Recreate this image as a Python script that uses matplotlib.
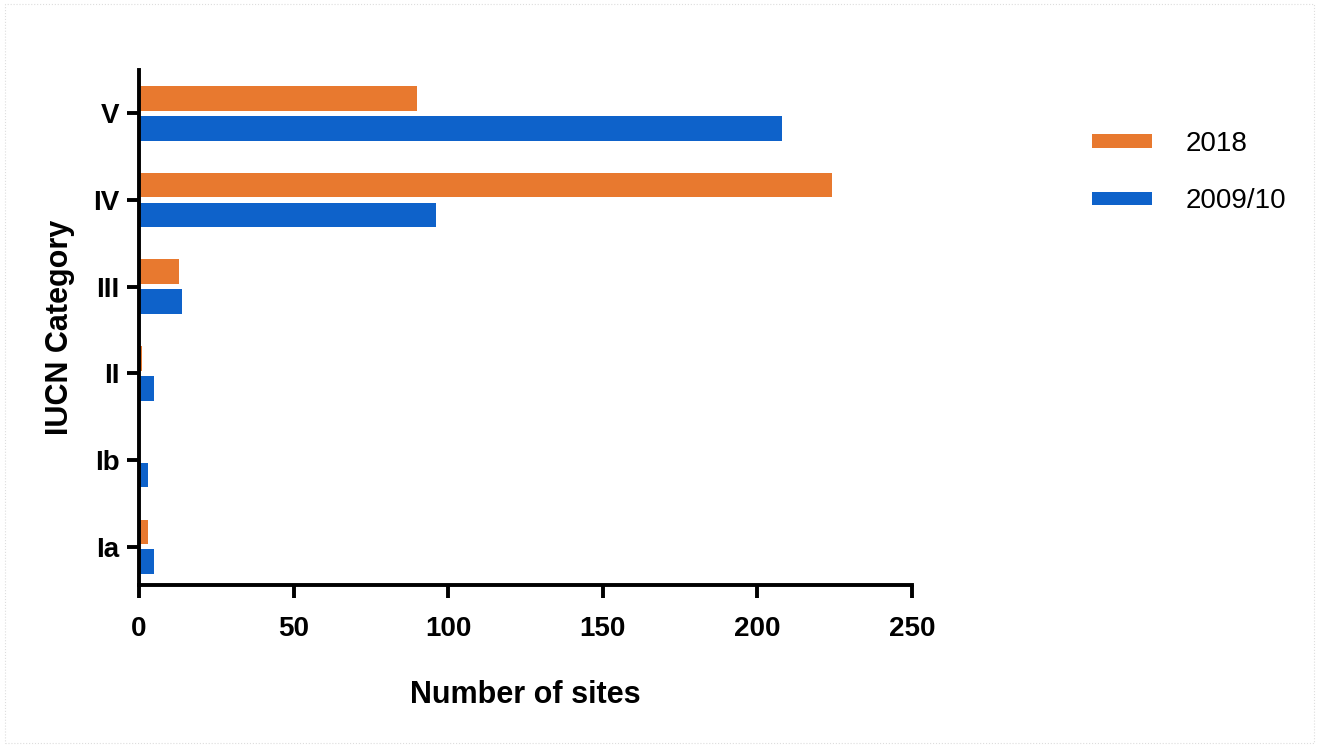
import matplotlib.pyplot as plt
import numpy as np
from matplotlib.patches import Rectangle

plt.rcParams['font.family'] = ['Liberation Sans', 'DejaVu Sans']

# data
categories = ["Ia", "Ib", "II", "III", "IV", "V"]
sites_2018 = [3, 0, 1, 13, 224, 90]
sites_2009 = [5, 3, 5, 14, 96, 208]

orange = '#E8792F'
blue = '#0E62CA'

fig = plt.figure(figsize=(13.19, 7.47), dpi=100)
ax = fig.add_axes([0.1054, 0.2169, 0.586, 0.6894])

y = np.arange(len(categories))
h = 0.285
ax.barh(y + h / 2 + 0.03, sites_2018, height=h, color=orange, label='2018')
ax.barh(y - h / 2 - 0.03, sites_2009, height=h, color=blue, label='2009/10')

ax.set_xlim(0, 250)
ax.set_ylim(-0.44, 5.5)
ax.set_xticks([0, 50, 100, 150, 200, 250])
ax.set_yticks(y)
ax.set_yticklabels(categories)

for s in ['top', 'right']:
    ax.spines[s].set_visible(False)
for s in ['left', 'bottom']:
    ax.spines[s].set_linewidth(2.8)
ax.tick_params(width=2.8, length=9, labelsize=20)
ax.tick_params(axis='x', pad=13)
ax.tick_params(axis='y', pad=5)
for lbl in ax.get_xticklabels() + ax.get_yticklabels():
    lbl.set_fontweight('bold')

ax.set_xlabel('Number of sites', fontsize=22, fontweight='bold', labelpad=28)
ax.set_ylabel('IUCN Category', fontsize=22, fontweight='bold', labelpad=13)

handles, labels = ax.get_legend_handles_labels()
fig.legend(handles, labels, loc='upper left', bbox_to_anchor=(0.809, 0.858),
           frameon=False, fontsize=20, handlelength=2.16, handleheight=0.36,
           labelspacing=1.12, handletextpad=1.2)

# light border around figure
fig.patches.append(Rectangle((0.004, 0.006), 0.992, 0.988, transform=fig.transFigure,
                             fill=False, edgecolor='#dddddd', linewidth=0.8,
                             linestyle=':'))

fig.savefig('out.png', dpi=100)
